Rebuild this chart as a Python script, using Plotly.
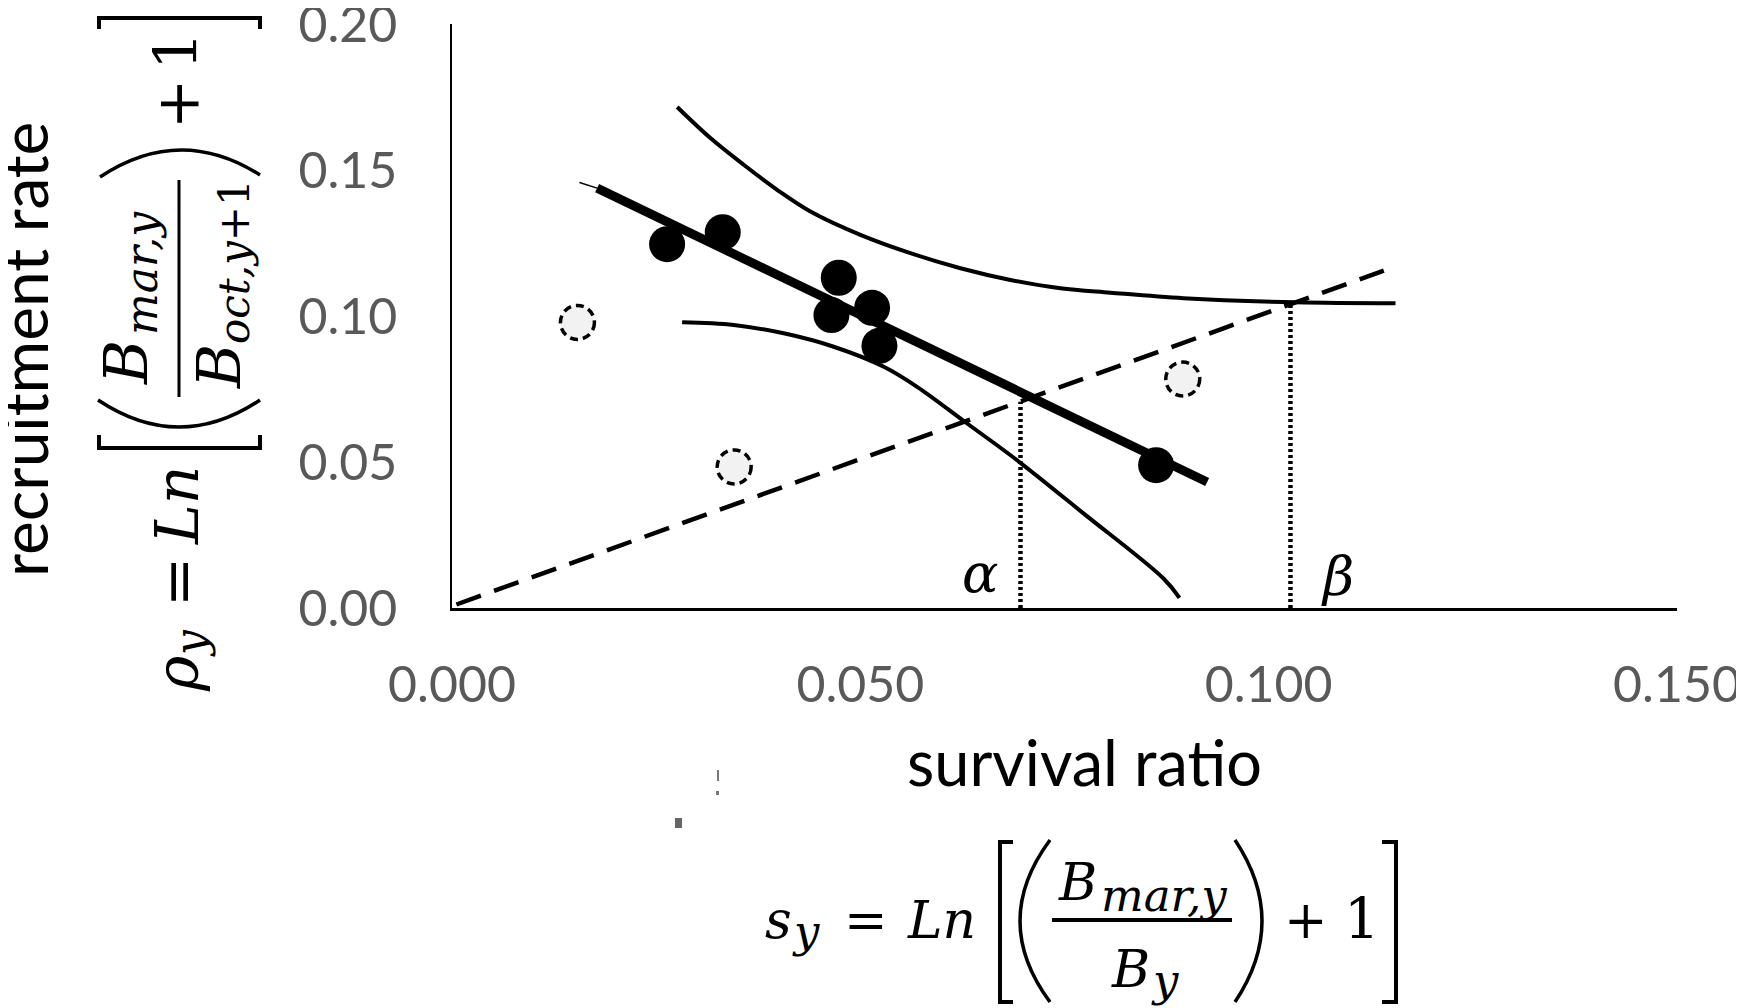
import plotly.graph_objects as go

# ---- data ----
obs_x = [0.02634, 0.03315, 0.04736, 0.04646, 0.05144, 0.05234, 0.08622]
obs_y = [0.1246, 0.1287, 0.1131, 0.1003, 0.1028, 0.0898, 0.0489]

out_x = [0.01536, 0.03455, 0.08948]
out_y = [0.0978, 0.0483, 0.0784]

fit_x = [0.01777, 0.09247]
fit_y = [0.1438, 0.04316]
fit_ext_x = [0.01561, 0.01777]
fit_ext_y = [0.1457, 0.1438]

upper_x = [0.02757, 0.03164, 0.03572, 0.03981, 0.04389, 0.05001, 0.05613, 0.06226,
           0.06838, 0.07450, 0.08062, 0.08960, 0.10328, 0.11553]
upper_y = [0.17159, 0.16096, 0.15180, 0.14322, 0.13578, 0.12778, 0.12151, 0.11636,
           0.11235, 0.10950, 0.10800, 0.10610, 0.10470, 0.10436]

lower_x = [0.02818, 0.03450, 0.04062, 0.04674, 0.05287, 0.05695, 0.06308, 0.06920, 0.07736, 0.08715, 0.08908]
lower_y = [0.09784, 0.09691, 0.09407, 0.08947, 0.08261, 0.07575, 0.06319, 0.05060, 0.03232, 0.01002, 0.0035]

diag_x = [0.00054, 0.11410]
diag_y = [0.0012, 0.11554]

alpha_x = [0.06961, 0.06961]
alpha_y = [0.0, 0.0706]
beta_x = [0.10267, 0.10267]
beta_y = [0.0, 0.10436]

x_ticks = [0, 0.05, 0.10, 0.15]
x_labels = ['0.000', '0.050', '0.100', '0.150']
y_ticks = [0, 0.05, 0.10, 0.15, 0.20]
y_labels = ['0.00', '0.05', '0.10', '0.15', '0.20']

# the page body has an 8px margin, so the figure is made 8px smaller
OFF = 8
W, H = 1744 - OFF, 1008 - OFF
L, R, T, B = 452 - OFF, 67, 24 - OFF, 400
PW, PH = W - L - R, H - T - B

SANS = 'Lato, Open Sans, sans-serif'
MATH = 'DejaVu Serif, serif'


def px(x, y):
    # page pixel -> paper coords
    return (x - OFF - L) / PW, (T + PH - (y - OFF)) / PH


def path_px(s):
    out = []
    for tok in s.split():
        if ',' in tok:
            a, b = tok.split(',')
            xp, yp = px(float(a), float(b))
            out.append('%.5f,%.5f' % (xp, yp))
        else:
            out.append(tok)
    return ' '.join(out)


def ann(text, x, y, size, angle=0, family=MATH, color='black'):
    xp, yp = px(x, y)
    return dict(text=text, x=xp, y=yp, xref='paper', yref='paper', showarrow=False,
                xanchor='center', yanchor='middle', textangle=angle,
                font=dict(family=family, size=size, color=color))


def pshape(s, width=3, fill=None, color='black'):
    d = dict(type='path', path=path_px(s), xref='paper', yref='paper',
             line=dict(color=color, width=width))
    if fill:
        d['fillcolor'] = fill
    return d


fig = go.Figure()

fig.add_trace(go.Scatter(x=diag_x, y=diag_y, mode='lines',
                         line=dict(color='black', width=4.5, dash='26px,14px')))
fig.add_trace(go.Scatter(x=upper_x, y=upper_y, mode='lines', line_shape='spline',
                         line=dict(color='black', width=4)))
fig.add_trace(go.Scatter(x=lower_x, y=lower_y, mode='lines', line_shape='spline',
                         line=dict(color='black', width=4)))
fig.add_trace(go.Scatter(x=alpha_x, y=alpha_y, mode='lines',
                         line=dict(color='black', width=4.5, dash='3px,3px')))
fig.add_trace(go.Scatter(x=beta_x, y=beta_y, mode='lines',
                         line=dict(color='black', width=4.5, dash='3px,3px')))
fig.add_trace(go.Scatter(x=fit_ext_x, y=fit_ext_y, mode='lines',
                         line=dict(color='black', width=1.5)))
fig.add_trace(go.Scatter(x=fit_x, y=fit_y, mode='lines',
                         line=dict(color='black', width=9)))
fig.add_trace(go.Scatter(x=out_x, y=out_y, mode='markers',
                         marker=dict(size=35, color='#f2f2f2', line=dict(width=0))))
fig.add_trace(go.Scatter(x=obs_x, y=obs_y, mode='markers',
                         marker=dict(size=36, color='black', line=dict(width=0))))

shapes = []
# dashed outlines of the excluded points
for xv, yv in zip(out_x, out_y):
    shapes.append(dict(type='circle', xref='x', yref='y', xsizemode='pixel', ysizemode='pixel',
                       xanchor=xv, yanchor=yv, x0=-17, x1=17, y0=-17, y1=17,
                       line=dict(color='black', width=3.5, dash='8px,5px')))

# y-axis formula: brackets, parentheses, fraction bar
shapes += [
    pshape('M 99,435 L 99,448 L 260,448 L 260,435', 4),
    pshape('M 98,400 Q 179,454 260,400', 3.5),
    pshape('M 100,177 Q 180,124 260,175', 3.5),
    pshape('M 99,29 L 99,18 L 260,18 L 260,29', 4),
    pshape('M 179,180 L 179,397', 3),
]
# x-axis formula
shapes += [
    pshape('M 1013,842 L 1000,842 L 1000,1002 L 1013,1002', 4),
    pshape('M 1050,840 Q 990,921 1050,1002', 3.5),
    pshape('M 1235,840 Q 1289,921 1235,1002', 3.5),
    pshape('M 1382,842 L 1396,842 L 1396,1002 L 1382,1002', 4),
    pshape('M 1052,920 L 1232,920', 4),
]
# small crop remnants
shapes += [
    pshape('M 675,818 L 682,818 L 682,828 L 675,828 Z', 0, fill='#666666', color='#666666'),
    pshape('M 717,770 L 719,770 L 719,781 L 717,781 Z', 0, fill='#777777', color='#777777'),
    pshape('M 716,791 L 719,791 L 719,795 L 716,795 Z', 0, fill='#777777', color='#777777'),
]

annotations = [
    ann('survival ratio', 1084, 761, 63, family=SANS),
    ann('recruitment rate', 23, 350, 64, angle=-90, family=SANS),
    ann('<i>α</i>', 980, 573, 54),
    ann('<i>β</i>', 1337, 576, 54),
    # rotated y formula
    ann('<i>ρ</i>', 177, 674, 60, angle=-90),
    ann('<i>y</i>', 190, 643, 44, angle=-90),
    ann('=', 177, 582, 60, angle=-90),
    ann('<i>Ln</i>', 177, 505, 60, angle=-90),
    ann('<i>B</i>', 126, 362, 60, angle=-90),
    ann('<i>mar,y</i>', 141, 273, 44, angle=-90),
    ann('<i>B</i>', 219, 367, 60, angle=-90),
    ann('<i>oct,y</i>+1', 235, 262, 42, angle=-90),
    ann('+', 177, 104, 60, angle=-90),
    ann('1', 176, 51, 60, angle=-90),
    # bottom formula
    ann('<i>s</i>', 778, 920, 52),
    ann('<i>y</i>', 806, 931, 45),
    ann('=', 866, 920, 52),
    ann('<i>Ln</i>', 941, 920, 52),
    ann('<i>B</i>', 1077, 882, 52),
    ann('<i>mar,y</i>', 1164, 895, 45),
    ann('<i>B</i>', 1130, 969, 52),
    ann('<i>y</i>', 1165, 980, 45),
    ann('+', 1306, 920, 52),
    ann('1', 1362, 918, 56),
]

fig.update_layout(
    width=W, height=H,
    margin=dict(l=L, r=R, t=T, b=B),
    paper_bgcolor='white', plot_bgcolor='white',
    showlegend=False,
    shapes=shapes,
    annotations=annotations,
    xaxis=dict(range=[0, 0.15], tickvals=x_ticks, ticktext=x_labels, automargin=False,
               showgrid=False, zeroline=False, showline=True, linecolor='black', linewidth=2.5,
               ticks='', ticklen=0, ticklabelstandoff=31, ticklabeloverflow='allow',
               tickfont=dict(family=SANS, size=50, color='#595959')),
    yaxis=dict(range=[0, 0.20], tickvals=y_ticks, ticktext=y_labels, automargin=False,
               showgrid=False, zeroline=False, showline=True, linecolor='black', linewidth=1.5,
               ticks='', ticklen=0, ticklabelstandoff=43, ticklabeloverflow='allow',
               tickfont=dict(family=SANS, size=50, color='#595959')),
)

fig.write_html('out.html')
